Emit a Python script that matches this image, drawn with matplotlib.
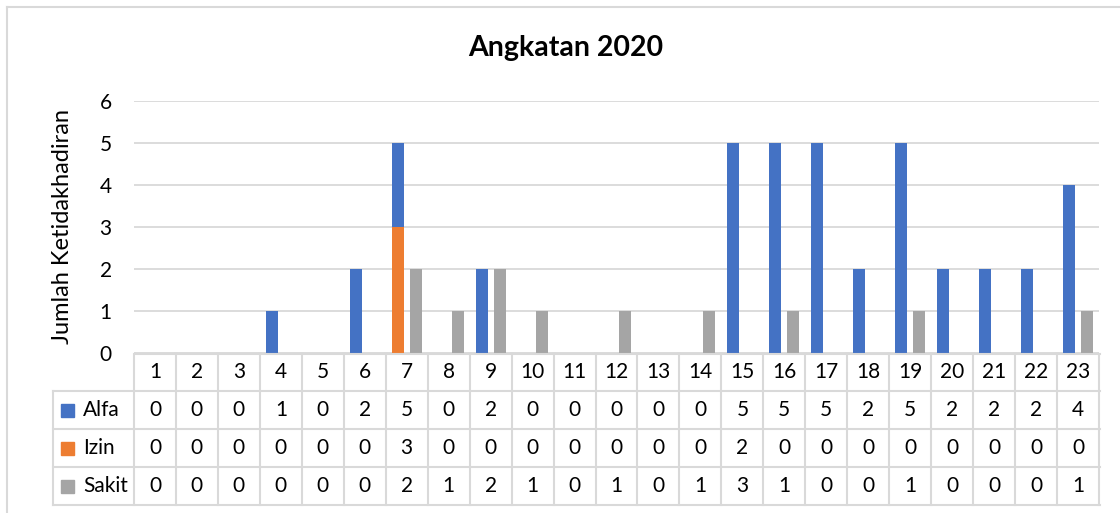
import numpy as np
import matplotlib.pyplot as plt
from matplotlib.lines import Line2D
from matplotlib.patches import Rectangle
from matplotlib.transforms import blended_transform_factory

plt.rcParams['font.family'] = ['Lato', 'DejaVu Sans']

# data (table values)
days = [str(i) for i in range(1, 24)]
series = ['Alfa', 'Izin', 'Sakit']
alfa = [0, 0, 0, 1, 0, 2, 5, 0, 2, 0, 0, 0, 0, 0, 5, 5, 5, 2, 5, 2, 2, 2, 4]
izin = [0, 0, 0, 0, 0, 0, 3, 0, 0, 0, 0, 0, 0, 0, 2, 0, 0, 0, 0, 0, 0, 0, 0]
sakit = [0, 0, 0, 0, 0, 0, 2, 1, 2, 1, 0, 1, 0, 1, 3, 1, 0, 0, 1, 0, 0, 0, 1]
# bars as they show up in the chart (day 15 only shows Alfa)
alfa_bar = [0, 0, 0, 1, 0, 2, 5, 0, 2, 0, 0, 0, 0, 0, 5, 5, 5, 2, 5, 2, 2, 2, 4]
izin_bar = [0, 0, 0, 0, 0, 0, 3, 0, 0, 0, 0, 0, 0, 0, 0, 0, 0, 0, 0, 0, 0, 0, 0]
sakit_bar = [0, 0, 0, 0, 0, 0, 2, 1, 2, 1, 0, 1, 0, 1, 0, 1, 0, 0, 1, 0, 0, 0, 1]
colors = ['#4472C4', '#ED7D31', '#A5A5A5']
grid_c = '#D9D9D9'

W, H = 1120, 513
def fx(p): return p / W
def fy(p): return 1 - p / H

fig = plt.figure(figsize=(11.2, 5.13), dpi=100)
fig.patch.set_facecolor('white')

ax = fig.add_axes([fx(134), fy(353), fx(1099) - fx(134), fy(101) - fy(353)])
x = np.arange(1, 24)
bw = 0.286
ax.bar(x - 0.214, alfa_bar, bw, color=colors[0], zorder=3)
ax.bar(x - 0.214, izin_bar, bw, color=colors[1], zorder=4)
ax.bar(x + 0.214, sakit_bar, bw, color=colors[2], zorder=3)

ax.set_xlim(0.5, 23.5)
ax.set_ylim(0, 6)
ax.set_yticks(range(7))
ax.set_xticks([])
ax.yaxis.grid(True, color=grid_c, lw=1.3, zorder=0)
ax.tick_params(axis='y', length=0, pad=16, labelsize=15)
for s in ax.spines.values():
    s.set_visible(False)
ax.set_ylabel('Jumlah Ketidakhadiran', fontsize=17)
ax.yaxis.set_label_coords((73 - 134) / (1099 - 134), 0.5)

fig.text(0.505, fy(48), 'Angkatan 2020', ha='center', va='center',
         fontsize=20.5, fontweight='bold')

# data table
tr = blended_transform_factory(ax.transData, fig.transFigure)
rows_y = [354, 391, 429, 467, 505]
lw = 1.5
fig.add_artist(Line2D([fx(136), fx(1100)], [fy(354)] * 2, color=grid_c, lw=lw,
                      transform=fig.transFigure))
for yy in rows_y[1:]:
    fig.add_artist(Line2D([fx(53), fx(1100)], [fy(yy)] * 2, color=grid_c, lw=lw,
                          transform=fig.transFigure))
for b in np.arange(0.5, 24, 1.0):
    fig.add_artist(Line2D([b, b], [fy(354), fy(505)], color=grid_c, lw=lw,
                          transform=tr))
fig.add_artist(Line2D([fx(53), fx(53)], [fy(391), fy(505)], color=grid_c, lw=lw,
                      transform=fig.transFigure))

centers = [(rows_y[i] + rows_y[i + 1]) / 2 for i in range(4)]
fs = 15
for i, d in enumerate(days):
    fig.text(x[i], fy(centers[0]), d, transform=tr, ha='center', va='center',
             fontsize=fs)
for r, vals in enumerate([alfa, izin, sakit]):
    for i, v in enumerate(vals):
        fig.text(x[i], fy(centers[r + 1]), str(v), transform=tr, ha='center',
                 va='center', fontsize=fs)
    fig.add_artist(Rectangle((fx(61), fy(centers[r + 1] + 6.5)), fx(13), 13 / H,
                             color=colors[r], transform=fig.transFigure))
    fig.text(fx(83), fy(centers[r + 1]), series[r], ha='left', va='center',
             fontsize=fs)

# chart frame
fig.add_artist(Line2D([fx(7), fx(7)], [fy(7), 0], color=grid_c, lw=1.5,
                      transform=fig.transFigure))
fig.add_artist(Line2D([fx(7), 1], [fy(7), fy(7)], color=grid_c, lw=1.5,
                      transform=fig.transFigure))

fig.savefig('out.png', dpi=100)
